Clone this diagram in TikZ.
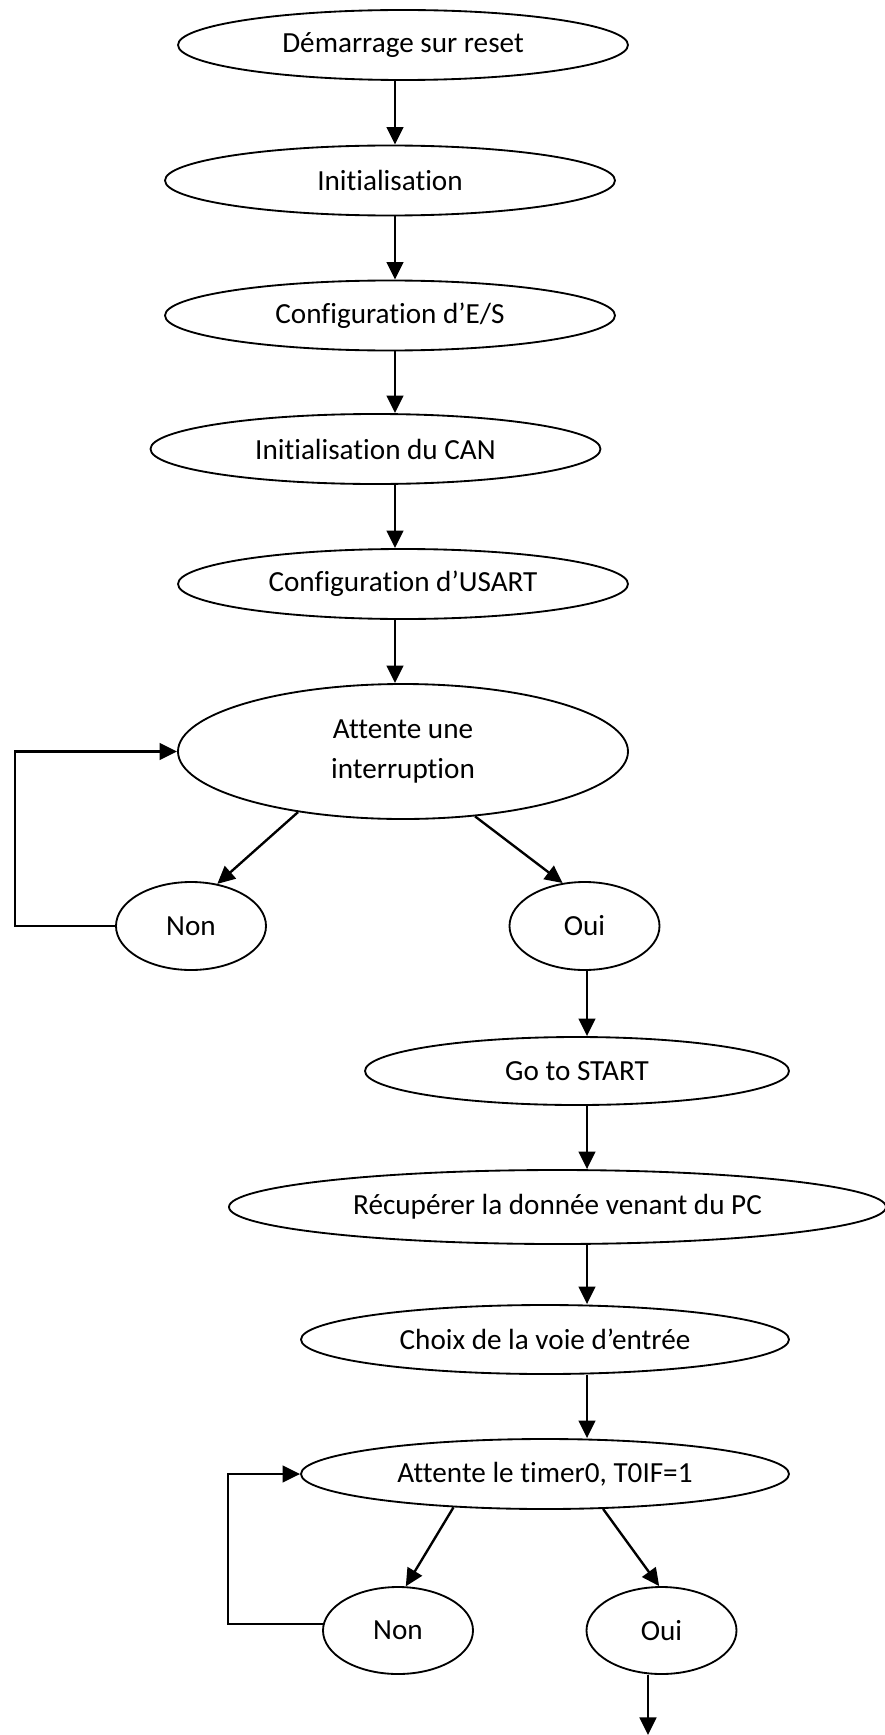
\documentclass[tikz,border=0pt]{standalone}
\usepackage{fontspec}
\setmainfont[Ligatures=NoCommon]{Carlito}
\usepackage{tikz}
\usetikzlibrary{shapes.geometric,arrows.meta}

\begin{document}
\begin{tikzpicture}[font=\fontsize{16.6}{23.3}\selectfont,
  etape/.style={ellipse,draw,line width=1.05pt,inner sep=0pt,align=center,
                minimum width=9cm,minimum height=1.4cm},
  rep/.style={ellipse,draw,line width=1.05pt,inner sep=0pt,
              minimum width=3cm,minimum height=1.76cm},
  ar/.style={-{Triangle[length=10pt,width=9.5pt]},line width=1.35pt}]

\useasboundingbox (0,0) rectangle (17.7,-34.7);

\node[etape] (demarrage) at (8.06,-0.9) {Démarrage sur reset};
\node[etape] (init) at (7.8,-3.61) {Initialisation};
\node[etape] (confES) at (7.8,-6.31) {Configuration d’E/S};
\node[etape] (initCAN) at (7.51,-8.98) {Initialisation du CAN};
\node[etape] (confUSART) at (8.06,-11.68) {Configuration d’USART};
\node[etape,minimum height=2.7cm] (attInt) at (8.06,-15.03) {Attente une\\interruption};
\node[rep] (non1) at (3.82,-18.52) {Non};
\node[rep] (oui1) at (11.69,-18.52) {Oui};
\node[etape,minimum width=8.48cm,minimum height=1.36cm] (goStart) at (11.54,-21.42) {Go to START};
\node[etape,minimum width=13.14cm,minimum height=1.48cm] (recup) at (11.15,-24.14) {Récupérer la donnée venant du PC};
\node[etape,minimum width=9.76cm,minimum height=1.38cm] (choix) at (10.9,-26.79) {Choix de la voie d’entrée};
\node[etape,minimum width=9.76cm] (attTimer) at (10.9,-29.48) {Attente le timer0, T0IF=1};
\node[rep,minimum height=1.74cm] (non2) at (7.96,-32.61) {Non};
\node[rep,minimum height=1.74cm] (oui2) at (13.23,-32.61) {Oui};

\coordinate (ax) at (7.9,0);
\coordinate (bx) at (11.74,0);
\coordinate (fin) at (12.96,-34.7);

\draw[ar] (ax |- demarrage.south) -- (ax |- init.north);
\draw[ar] (ax |- init.south) -- (ax |- confES.north);
\draw[ar] (ax |- confES.south) -- (ax |- initCAN.north);
\draw[ar] (ax |- initCAN.south) -- (ax |- confUSART.north);
\draw[ar] (ax |- confUSART.south) -- (ax |- attInt.north);
\draw[ar] (attInt.210) -- (non1.58);
\draw[ar] (attInt.318) -- (oui1.117);
\draw[ar] (non1.west) -- ++(-2,0) |- (attInt.west);
\draw[ar] (bx |- oui1.south) -- (bx |- goStart.north);
\draw[ar] (bx |- goStart.south) -- (bx |- recup.north);
\draw[ar] (bx |- recup.south) -- (bx |- choix.north);
\draw[ar] (bx |- choix.south) -- (bx |- attTimer.north);
\draw[ar] (attTimer.200) -- (non2.80);
\draw[ar] (attTimer.329) -- (oui2.93);
\draw[ar] (non2.175) -- ++(-1.9,0) |- (attTimer.west);
\draw[ar] (fin |- oui2.south) -- (fin);
\end{tikzpicture}
\end{document}
